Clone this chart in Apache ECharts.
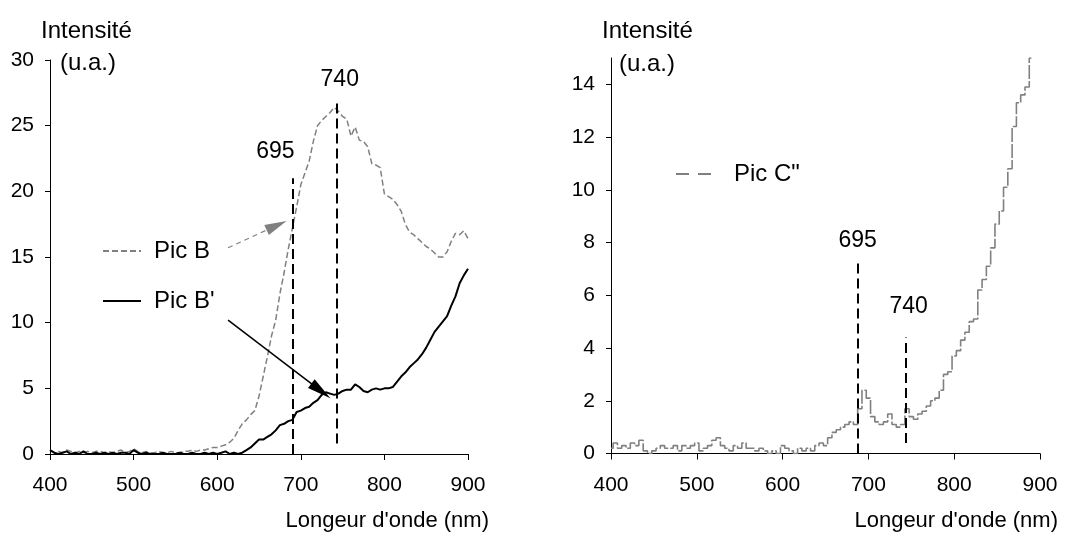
<!DOCTYPE html>
<html><head><meta charset="utf-8">
<script src="https://cdn.jsdelivr.net/npm/echarts@6/dist/echarts.min.js"></script>
<style>html,body{margin:0;padding:0;background:#fff}#c{width:1068px;height:538px}</style>
</head><body><div id="c"></div>
<script>
// ---------- DATA ----------
const wavelengths = [400,405,410,415,420,425,430,435,440,445,450,455,460,465,470,475,480,485,490,495,
500,505,510,515,520,525,530,535,540,545,550,555,560,565,570,575,580,585,590,595,
600,605,610,615,620,625,630,635,640,645,650,655,660,665,670,675,680,685,690,695,
700,705,710,715,720,725,730,735,740,745,750,755,760,765,770,775,780,785,790,795,
800,805,810,815,820,825,830,835,840,845,850,855,860,865,870,875,880,885,890,895,900];

const picB = [0.3,0.1,0.2,0.1,0.3,0.2,0.1,0.2,0.1,0.2,0.1,0.2,0.2,0.1,0.2,0.1,0.2,0.3,0.1,0.2,
0.4,0.2,0.1,0.2,0.1,0.1,0.2,0.1,0.1,0.2,0.1,0.1,0.2,0.2,0.3,0.2,0.3,0.3,0.4,0.5,
0.5,0.6,0.7,0.9,1.2,1.8,2.3,2.6,3.0,3.3,4.4,5.9,7.4,9.0,10.2,12.2,13.8,15.6,17.2,18.8,
20.5,21.4,22.3,23.8,25.0,25.4,25.7,26.0,26.4,26.1,25.7,25.5,24.2,24.9,23.9,23.8,23.4,22.1,22.0,21.8,
19.8,19.6,19.4,19.0,18.5,17.5,16.9,16.7,16.4,16.1,15.8,15.6,15.3,15.0,15.0,15.4,16.2,16.8,16.7,17.0,16.4];

const picBprime = [0.3,0.1,0.0,0.1,0.2,0.0,0.1,0.0,0.2,0.0,0.0,0.1,0.0,0.1,0.0,0.1,0.0,0.1,0.1,0.0,
0.3,0.1,0.0,0.1,0.0,0.0,0.0,0.1,0.0,0.0,0.0,0.1,0.0,0.0,0.1,0.0,0.0,0.1,0.0,0.1,
0.0,0.1,0.2,0.0,0.1,0.0,0.1,0.3,0.5,0.8,1.1,1.1,1.3,1.5,1.8,2.2,2.3,2.5,2.6,3.2,
3.3,3.5,3.6,3.9,4.1,4.5,4.7,4.6,4.5,4.6,4.8,4.9,4.9,5.3,5.1,4.8,4.7,4.9,5.0,4.9,
5.0,5.0,5.1,5.5,5.9,6.2,6.6,6.9,7.2,7.6,8.1,8.7,9.3,9.7,10.1,10.5,11.3,12.0,13.0,13.6,14.1];

const picCsecond = [0.2,0.4,0.2,0.3,0.2,0.4,0.3,0.5,0.1,0.0,0.1,0.2,0.3,0.2,0.2,0.3,0.1,0.3,0.2,0.3,
0.4,0.1,0.2,0.3,0.5,0.6,0.3,0.2,0.1,0.3,0.2,0.4,0.2,0.2,0.1,0.2,0.1,0.0,0.1,0.0,
0.3,0.2,0.1,0.0,0.2,0.1,0.2,0.1,0.3,0.4,0.3,0.6,0.8,0.9,1.0,1.1,1.2,1.1,1.7,2.4,
2.1,1.4,1.2,1.1,1.2,1.5,1.1,1.0,1.1,1.7,1.4,1.3,1.5,1.6,1.8,2.0,2.1,2.4,3.0,3.1,
3.7,3.9,4.3,4.6,5.0,5.1,6.2,6.6,7.1,7.8,8.7,9.2,10.1,10.8,12.4,13.3,13.6,13.9,15.0];

const xTicks = [400, 900, 100];          // min, max, interval
const yTicksLeft = [0, 30, 5];
const yTicksRight = [0, 15, 2];
const yLabelsRight = [0, 2, 4, 6, 8, 10, 12, 14];

const seriesNames = ['Pic B', "Pic B'", 'Pic C"'];
// peak markers: label, wavelength, bottom value, top value
const peaksLeft = [['695', 690, 0, 21], ['740', 743, 0.8, 27]];
const peaksRight = [['695', 687.5, 0, 7.3], ['740', 743.5, 0.4, 4.4]];
// arrows (data coordinates): from [x,y] to [x,y]
const arrowB = [[613, 15.7], [671, 17.4]];
const arrowBprime = [[613, 10.2], [724, 4.8]];

const yTitle = ['Intensité', '(u.a.)'];
const xTitle = "Longeur d'onde (nm)";

// ---------- CHART ----------
const pairs = (vals) => vals.map((v, i) => [wavelengths[i], v]);
const FONT = "'Liberation Sans', Arial, sans-serif";
const GRAY = '#808080';

function peakLine(p, dx, dy) {
  return [
    { coord: [p[1], p[2]], lineStyle: { color: '#000', width: 2, type: [10, 5] },
      label: { show: true, formatter: p[0], position: 'end', offset: [dx, dy],
               color: '#000', fontSize: 23, fontFamily: FONT } },
    { coord: [p[1], p[3]] }
  ];
}

const xAxisBase = (gi) => ({
  type: 'value', gridIndex: gi, min: xTicks[0], max: xTicks[1], interval: xTicks[2],
  axisLine: { lineStyle: { color: '#000', width: 1 } },
  axisTick: { show: true, length: 6, lineStyle: { color: '#000' } },
  axisLabel: { color: '#000', fontSize: 21, fontFamily: FONT, margin: 21 },
  splitLine: { show: false }
});

const chart = echarts.init(document.getElementById('c'), null, { renderer: 'canvas' });
chart.setOption({
  animation: false,
  backgroundColor: '#fff',
  grid: [
    { left: 50, top: 60, width: 418, height: 394 },
    { left: 611, top: 58, width: 429, height: 395.5 }
  ],
  xAxis: [xAxisBase(0), xAxisBase(1)],
  yAxis: [
    { type: 'value', gridIndex: 0, min: yTicksLeft[0], max: yTicksLeft[1], interval: yTicksLeft[2],
      axisLine: { show: true, lineStyle: { color: '#000', width: 1 } },
      axisTick: { show: true, length: 5, lineStyle: { color: '#000' } },
      axisLabel: { color: '#000', fontSize: 21, fontFamily: FONT, margin: 16 },
      splitLine: { show: false } },
    { type: 'value', gridIndex: 1, min: yTicksRight[0], max: yTicksRight[1], interval: yTicksRight[2],
      axisLine: { show: true, lineStyle: { color: '#000', width: 1 } },
      axisTick: { show: true, length: 5, lineStyle: { color: '#000' }, customValues: yLabelsRight },
      axisLabel: { color: '#000', fontSize: 21, fontFamily: FONT, margin: 16, customValues: yLabelsRight },
      splitLine: { show: false } }
  ],
  legend: [
    { data: [seriesNames[0], seriesNames[1]], orient: 'vertical', left: 102, top: 239, padding: 0,
      itemWidth: 38, itemHeight: 14, itemGap: 26, itemStyle: { opacity: 0 },
      textStyle: { color: '#000', fontSize: 24, fontFamily: FONT, padding: [0, 0, 0, 8] } },
    { data: [{ name: seriesNames[2], lineStyle: { type: [13, 9] } }], orient: 'vertical', left: 675, top: 162, padding: 0,
      itemWidth: 37, itemHeight: 14, itemStyle: { opacity: 0 },
      textStyle: { color: '#000', fontSize: 24, fontFamily: FONT, padding: [0, 0, 0, 16] } }
  ],
  series: [
    { name: seriesNames[0], type: 'line', xAxisIndex: 0, yAxisIndex: 0, data: pairs(picB),
      symbol: 'none', lineStyle: { color: GRAY, width: 1.5, type: [6, 3] }, itemStyle: { color: GRAY },
      z: 2,
      markLine: { silent: true, symbol: ['none', 'triangle'], symbolSize: [11, 22],
        lineStyle: { color: GRAY, width: 1.2, type: [5, 4] },
        label: { show: false },
        data: [[{ coord: arrowB[0] }, { coord: arrowB[1] }]] } },
    { name: seriesNames[1], type: 'line', xAxisIndex: 0, yAxisIndex: 0, data: pairs(picBprime),
      symbol: 'none', lineStyle: { color: '#000', width: 2 }, itemStyle: { color: '#000' },
      z: 3,
      markLine: { silent: true, symbol: ['none', 'none'],
        data: [
          peakLine(peaksLeft[0], -17, -10),
          peakLine(peaksLeft[1], 3, -3),
          [{ coord: arrowBprime[0], symbol: 'none', lineStyle: { color: '#000', width: 1.5, type: 'solid' }, label: { show: false } },
           { coord: arrowBprime[1], symbol: 'triangle', symbolSize: [11, 24] }]
        ] } },
    { name: seriesNames[2], type: 'line', xAxisIndex: 1, yAxisIndex: 1, data: pairs(picCsecond).slice(0, 99),
      symbol: 'none', step: 'middle', lineStyle: { color: GRAY, width: 1.6, type: [14, 2] }, itemStyle: { color: GRAY },
      markLine: { silent: true, symbol: ['none', 'none'],
        data: [ peakLine(peaksRight[0], 0, -4), peakLine(peaksRight[1], 3, -14) ] } }
  ],
  graphic: [
    { type: 'text', x: 41, y: 31, style: { text: yTitle[0], fill: '#000', font: '24px ' + FONT, textVerticalAlign: 'middle' } },
    { type: 'text', x: 60, y: 63, style: { text: yTitle[1], fill: '#000', font: '24px ' + FONT, textVerticalAlign: 'middle' } },
    { type: 'text', x: 602, y: 31, style: { text: yTitle[0], fill: '#000', font: '24px ' + FONT, textVerticalAlign: 'middle' } },
    { type: 'text', x: 619, y: 64, style: { text: yTitle[1], fill: '#000', font: '24px ' + FONT, textVerticalAlign: 'middle' } },
    { type: 'text', x: 489, y: 521, style: { text: xTitle, fill: '#000', font: '22px ' + FONT, textAlign: 'right', textVerticalAlign: 'middle' } },
    { type: 'text', x: 1058, y: 521, style: { text: xTitle, fill: '#000', font: '22px ' + FONT, textAlign: 'right', textVerticalAlign: 'middle' } }
  ]
});
</script></body></html>
